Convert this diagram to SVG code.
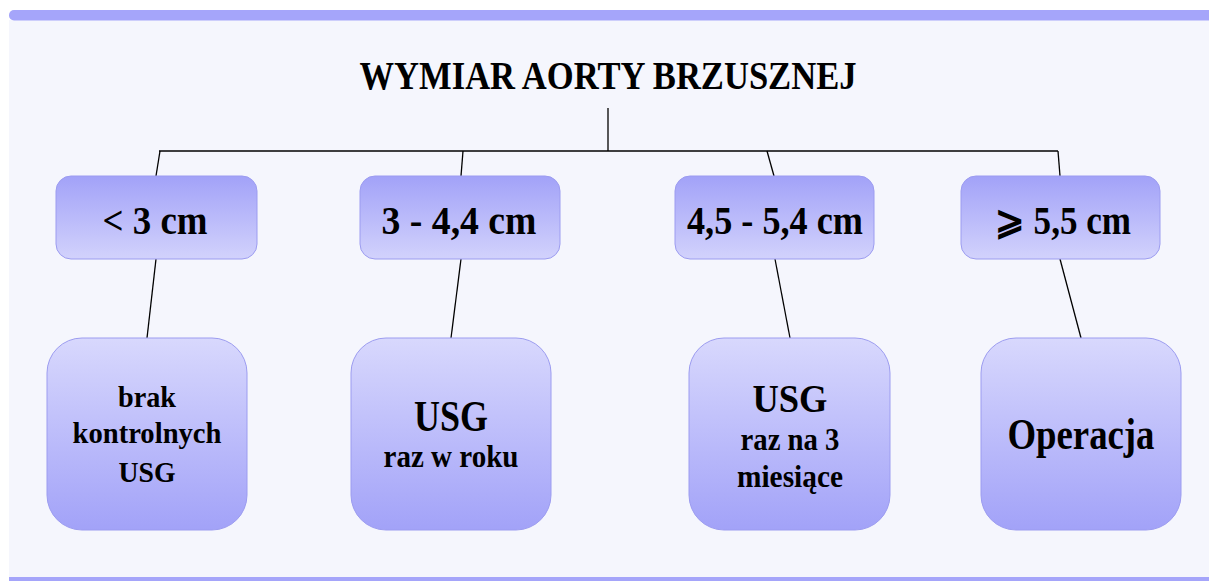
<svg xmlns="http://www.w3.org/2000/svg" width="1209" height="581" viewBox="0 0 1209 581">
<style>
.t{font-family:'Liberation Serif','DejaVu Serif',serif;font-weight:700;fill:#000;text-anchor:middle}
.c{stroke:#000;stroke-width:1.3;fill:none}
.sb{fill:url(#gs);stroke:#9c9cf0;stroke-width:1}
.bb{fill:url(#gb);stroke:#9c9cf0;stroke-width:1}
</style>
<defs>
<linearGradient id="gs" x1="0" y1="0" x2="0" y2="1">
<stop offset="0" stop-color="#a2a2f8"/>
<stop offset="1" stop-color="#d2d2fc"/>
</linearGradient>
<linearGradient id="gb" x1="0" y1="0" x2="0" y2="1">
<stop offset="0" stop-color="#d8d8fd"/>
<stop offset="1" stop-color="#a2a2f8"/>
</linearGradient>
</defs>
<rect x="0" y="0" width="1209" height="581" fill="#ffffff"/>
<rect x="9" y="20" width="1200" height="558" fill="#f5f6fd"/>
<rect x="9" y="10" width="1210" height="10.5" rx="5" fill="#a5a5fa"/>
<rect x="9" y="577" width="1200" height="4" fill="#a5a5fa"/>
<g id="title"><text class="t" x="608" y="89" font-size="39" textLength="497" lengthAdjust="spacingAndGlyphs">WYMIAR AORTY BRZUSZNEJ</text></g>
<g id="connectors">
<line class="c" x1="608" y1="108" x2="608" y2="151"/>
<line class="c" x1="159" y1="151" x2="1058" y2="151"/>
<line class="c" x1="160" y1="151" x2="156" y2="176"/>
<line class="c" x1="156" y1="259" x2="147" y2="338"/>
<line class="c" x1="463" y1="151" x2="461" y2="176"/>
<line class="c" x1="461" y1="259" x2="451" y2="338"/>
<line class="c" x1="767" y1="151" x2="774" y2="176"/>
<line class="c" x1="775" y1="259" x2="790" y2="338"/>
<line class="c" x1="1058" y1="151" x2="1060" y2="176"/>
<line class="c" x1="1060" y1="259" x2="1081" y2="338"/>
</g>
<g id="s1"><rect class="sb" x="56" y="176" width="201" height="83" rx="15"/><text class="t" x="155" y="234" font-size="40" textLength="105" lengthAdjust="spacingAndGlyphs">&lt; 3 cm</text></g>
<g id="s2"><rect class="sb" x="360" y="176" width="200" height="83" rx="15"/><text class="t" x="459" y="234" font-size="40" textLength="155" lengthAdjust="spacingAndGlyphs">3 - 4,4 cm</text></g>
<g id="s3"><rect class="sb" x="675" y="176" width="199" height="83" rx="15"/><text class="t" x="775" y="234" font-size="40" textLength="176" lengthAdjust="spacingAndGlyphs">4,5 - 5,4 cm</text></g>
<g id="s4"><rect class="sb" x="961" y="176" width="199" height="83" rx="15"/><text class="t" x="1063" y="234" font-size="40" textLength="136" lengthAdjust="spacingAndGlyphs">⩾ 5,5 cm</text></g>
<g id="b1"><rect class="bb" x="47" y="338" width="200" height="192" rx="35"/>
<text class="t" x="147" y="407" font-size="30" textLength="58" lengthAdjust="spacingAndGlyphs">brak</text>
<text class="t" x="147" y="443" font-size="30" textLength="149" lengthAdjust="spacingAndGlyphs">kontrolnych</text>
<text class="t" x="147" y="482" font-size="30" textLength="57" lengthAdjust="spacingAndGlyphs">USG</text></g>
<g id="b2"><rect class="bb" x="351" y="338" width="200" height="192" rx="35"/>
<text class="t" x="451" y="431" font-size="44" textLength="74" lengthAdjust="spacingAndGlyphs">USG</text>
<text class="t" x="451" y="467" font-size="31" textLength="135" lengthAdjust="spacingAndGlyphs">raz w roku</text></g>
<g id="b3"><rect class="bb" x="689" y="338" width="201" height="192" rx="35"/>
<text class="t" x="790" y="412" font-size="41" textLength="75" lengthAdjust="spacingAndGlyphs">USG</text>
<text class="t" x="790" y="450" font-size="31" textLength="99" lengthAdjust="spacingAndGlyphs">raz na 3</text>
<text class="t" x="790" y="487" font-size="31" textLength="106" lengthAdjust="spacingAndGlyphs">miesiące</text></g>
<g id="b4"><rect class="bb" x="981" y="338" width="200" height="192" rx="35"/>
<text class="t" x="1081" y="449" font-size="44" textLength="147" lengthAdjust="spacingAndGlyphs">Operacja</text></g>
</svg>
